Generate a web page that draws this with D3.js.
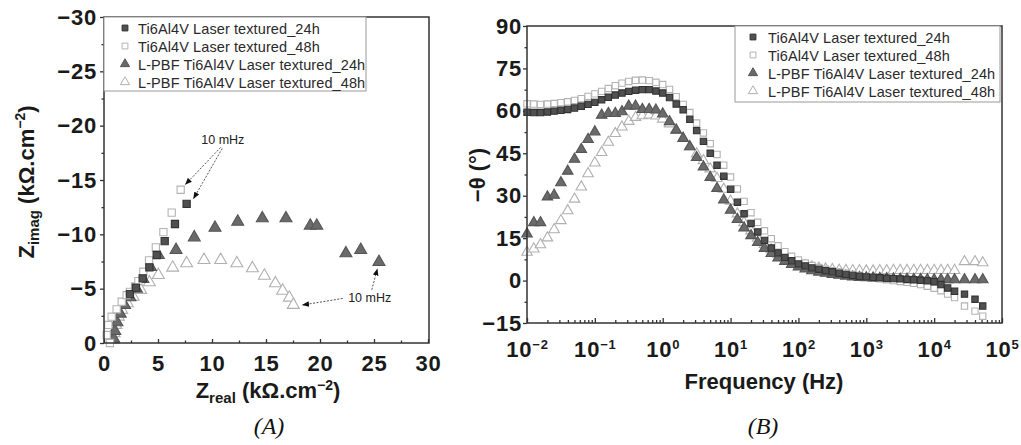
<!DOCTYPE html>
<html><head><meta charset="utf-8">
<script src="https://cdn.jsdelivr.net/npm/d3@7"></script>
<style>
body{margin:0;background:#fff;}
svg{display:block;font-family:"Liberation Sans",Arial,sans-serif;}
</style></head><body>
<svg id="c" width="1021" height="445"></svg>
<script>
// ---------- DATA ----------
const seriesNames = ["Ti6Al4V Laser textured_24h","Ti6Al4V Laser textured_48h","L-PBF Ti6Al4V Laser textured_24h","L-PBF Ti6Al4V Laser textured_48h"];

// (A) Nyquist: Zreal (kOhm.cm-2), Zimag (kOhm.cm-2)
const nyqSq24Dense_re = [0.52,0.6,0.72,0.85,1.0,1.2,1.4,1.6,1.8,2.0,2.2,2.4];
const nyqSq24Dense_im = [0,-0.3,-0.7,-1.2,-1.7,-2.2,-2.7,-3.1,-3.5,-3.9,-4.2,-4.5];
const nyqSq24_re = [2.4,2.96,3.58,4.2,4.88,5.62,6.57,7.65];
const nyqSq24_im = [-4.5,-5.1,-5.95,-6.96,-8.1,-9.38,-10.95,-12.8];
const nyqSq48_re = [0.55,0.25,0.4,0.71,1.17,1.64,2.1,2.4,2.87,3.18,3.64,4.17,4.8,5.5,6.27,7.1];
const nyqSq48_im = [0,-0.74,-1.66,-2.42,-3.1,-3.8,-4.4,-4.7,-5.2,-5.7,-6.56,-7.6,-8.8,-10.2,-12.0,-14.1];
const nyqTri24_re = [0.9,1.0,1.2,1.5,1.9,2.4,3.0,3.6,4.3,5.03,6.67,8.36,10.28,12.38,14.66,16.85,19.1,19.7,22.4,23.77,25.46];
const nyqTri24_im = [-0.4,-1.1,-1.9,-2.7,-3.5,-4.2,-5.0,-5.9,-7.0,-8.1,-8.56,-9.72,-10.6,-11.16,-11.47,-11.47,-10.8,-10.8,-8.25,-8.56,-7.45];
const nyqTri48_re = [0.86,0.93,1.1,1.33,1.64,2.16,2.7,3.4,4.2,5.03,6.36,7.65,9.26,10.8,12.3,13.74,14.85,15.87,16.54,17.16,17.53];
const nyqTri48_im = [-0.28,-0.9,-1.66,-2.42,-3.04,-3.65,-4.26,-4.88,-5.58,-6.26,-6.93,-7.33,-7.64,-7.64,-7.33,-6.87,-6.19,-5.49,-4.81,-4.17,-3.5];
const nyqXTicks = [0,5,10,15,20,25,30];
const nyqYTicks = [0,-5,-10,-15,-20,-25,-30];

// (B) Bode phase: frequency (Hz), -theta (deg)
const freq = [0.01,0.0126,0.0158,0.02,0.0251,0.0316,0.0398,0.0501,0.0631,0.0794,
  0.1,0.126,0.158,0.2,0.251,0.316,0.398,0.501,0.631,0.794,
  1,1.26,1.58,2,2.51,3.16,3.98,5.01,6.31,7.94,
  10,12.6,15.8,20,25.1,31.6,39.8,50.1,63.1,79.4,
  100,126,158,200,251,316,398,501,631,794,
  1000,1260,1580,2000,2510,3160,3980,5010,6310,7940,
  10000,12600,15800,20000,28000,40000,52000];
const phSq24 = [59.5,59.4,59.4,59.6,59.9,60.2,60.5,61.0,61.6,62.3,
  63.0,63.9,64.8,65.6,66.3,66.9,67.3,67.5,67.5,67.0,
  66.3,64.7,62.4,60.4,57.0,53.0,49.2,45.0,40.8,36.9,
  32.3,27.7,23.6,20.2,17.2,14.2,11.5,9.8,8.2,7.0,
  5.9,5.2,4.5,4.0,3.5,3.1,2.6,2.2,1.8,1.5,
  1.3,1.1,1.0,0.8,0.7,0.6,0.4,0.3,0.1,-0.1,
  -0.4,-1.4,-2.6,-3.8,-4.8,-6.6,-9.0];
const phSq48 = [62.5,62.4,62.3,62.4,62.6,62.9,63.2,63.7,64.3,65.1,
  66.0,66.9,67.9,68.9,69.8,70.4,70.8,70.9,70.7,70.1,
  69.3,67.6,65.0,62.3,59.4,55.7,52.2,48.4,44.6,40.8,
  36.6,32.4,28.0,24.0,20.6,17.6,14.8,12.3,10.2,8.6,
  7.3,6.2,5.3,4.6,4.0,3.5,3.0,2.6,2.2,1.8,
  1.4,1.0,0.6,0.3,0.0,-0.3,-0.6,-1.0,-1.4,-2.0,
  -2.7,-3.6,-4.8,-6.0,-9.0,-10.8,-12.6];
const phTri24 = [16.5,20.5,20.5,29.6,30.2,34.6,38.7,42.9,46.4,49.9,
  52.6,58.5,59.1,59.1,59.7,61.7,61.7,60.5,60.5,60.3,
  58.9,56.2,53.2,50.3,47.3,43.5,40.2,36.5,32.6,28.5,
  24.9,21.6,18.6,15.9,13.5,11.4,9.6,8.0,6.8,5.7,
  4.8,4.1,3.5,3.0,2.6,2.2,1.9,1.6,1.3,1.1,
  1.0,0.9,0.8,0.7,0.6,0.5,0.5,0.4,0.4,0.3,
  0.3,0.3,0.3,0.3,0.3,0.3,0.3];
const phTri48 = [10.0,11.2,12.7,15.1,18.0,21.2,24.7,28.8,33.1,37.8,
  41.6,45.3,48.9,52.0,54.3,56.3,57.7,58.3,58.5,58.2,
  57.1,55.4,53.3,50.3,47.3,44.8,42.4,39.5,36.1,32.3,
  28.1,23.6,20.5,17.6,15.0,12.8,10.9,9.3,8.0,6.9,
  6.0,5.3,4.8,4.4,4.1,3.9,3.7,3.6,3.5,3.5,
  3.4,3.4,3.5,3.5,3.6,3.6,3.6,3.6,3.6,3.6,
  3.6,3.6,3.6,3.6,6.7,6.7,6.3];
const bodeYTicks = [-15,0,15,30,45,60,75,90];
const bodeXTicks = [1e-2,1e-1,1e0,1e1,1e2,1e3,1e4,1e5];

// ---------- STYLE ----------
const styles = [
  {type:d3.symbolSquare, fill:"#505050", stroke:"#333"},
  {type:d3.symbolSquare, fill:"#fff", stroke:"#b3b3b3"},
  {type:d3.symbolTriangle, fill:"#6a6a6a", stroke:"#555"},
  {type:d3.symbolTriangle, fill:"#fff", stroke:"#b0b0b0"}
];
const fmtMinus = d => d < 0 ? "\u2212" + Math.abs(d) : String(d);
const TICKFS = 22;

const svg = d3.select("#c");
svg.append("rect").attr("width",1021).attr("height",445).attr("fill","#fff");

function styleAxis(g){
  g.select(".domain").remove();
  g.selectAll("line").attr("stroke","#333").attr("stroke-width",1.3);
  g.selectAll("text").attr("font-size",TICKFS).attr("font-weight","bold").attr("fill","#1a1a1a")
    .attr("letter-spacing","0.8px")
    .attr("font-family",'"Liberation Sans",Arial,sans-serif');
}
function drawMarkers(g, pts, si, xs, ys, size){
  const st = styles[si];
  g.append("g").selectAll("path").data(pts).join("path")
    .attr("d", d3.symbol().type(st.type).size(size))
    .attr("transform", d => `translate(${xs(d[0])},${ys(d[1])})`)
    .attr("fill", st.fill).attr("stroke", st.stroke).attr("stroke-width",1.1);
}
const zip = (a,b) => a.map((v,i)=>[v,b[i]]);

// defs: arrowhead
svg.append("defs").append("marker").attr("id","ah").attr("viewBox","0 0 10 10")
  .attr("refX",9).attr("refY",5).attr("markerWidth",7).attr("markerHeight",7).attr("orient","auto-start-reverse")
  .append("path").attr("d","M0,1 L10,5 L0,9 Z").attr("fill","#111");

// ================= (A) =================
const L = {x0:104, x1:429, y0:17, y1:343};
const xL = d3.scaleLinear([0,30],[L.x0, 428]);
const yL = d3.scaleLinear([0,-30],[L.y1, L.y0]);
const gA = svg.append("g");

gA.append("g").attr("transform",`translate(${L.x0},0)`)
  .call(d3.axisLeft(yL).tickValues(nyqYTicks).tickSize(4).tickPadding(3).tickFormat(fmtMinus))
  .call(styleAxis);
gA.append("g").attr("transform",`translate(${L.x0},0)`)
  .call(d3.axisLeft(yL).tickValues(d3.range(-2.5,-30,-5)).tickSize(2.5).tickFormat(""))
  .call(styleAxis);
gA.append("g").attr("transform",`translate(0,${L.y1})`)
  .call(d3.axisBottom(xL).tickValues(nyqXTicks).tickSize(-4).tickPadding(12).tickFormat(d=>d))
  .call(styleAxis);
gA.append("g").attr("transform",`translate(0,${L.y1})`)
  .call(d3.axisBottom(xL).tickValues(d3.range(2.5,30,5)).tickSize(-2.5).tickFormat(""))
  .call(styleAxis);

// data
gA.append("path").datum(zip(nyqSq24Dense_re, nyqSq24Dense_im))
  .attr("d", d3.line().x(d=>xL(d[0])).y(d=>yL(d[1])).curve(d3.curveMonotoneY))
  .attr("fill","none").attr("stroke","#3a3a3a").attr("stroke-width",2);
drawMarkers(gA, zip(nyqTri48_re,nyqTri48_im), 3, xL, yL, 62);
drawMarkers(gA, zip(nyqTri24_re,nyqTri24_im), 2, xL, yL, 62);
drawMarkers(gA, zip(nyqSq48_re,nyqSq48_im), 1, xL, yL, 52);
drawMarkers(gA, zip(nyqSq24_re,nyqSq24_im), 0, xL, yL, 52);

// annotations (10 mHz)
const ann = gA.append("g").attr("fill","none").attr("stroke","#555").attr("stroke-width",1).attr("stroke-dasharray","2,1.5");
[[[10.8,-18.0],[7.55,-14.6]],[[10.95,-17.9],[8.3,-13.3]],[[22.1,-4.1],[18.4,-3.5]],[[24.8,-4.9],[25.3,-6.8]]]
  .forEach(([a,b]) => ann.append("line").attr("x1",xL(a[0])).attr("y1",yL(a[1])).attr("x2",xL(b[0])).attr("y2",yL(b[1])).attr("marker-end","url(#ah)"));
gA.append("text").attr("x",xL(11.0)).attr("y",yL(-18.3)).attr("text-anchor","middle").attr("font-size",12.5).attr("fill","#222").text("10 mHz");
gA.append("text").attr("x",xL(24.6)).attr("y",yL(-3.8)).attr("text-anchor","middle").attr("font-size",12.5).attr("fill","#222").text("10 mHz");

// frame
gA.append("rect").attr("x",L.x0).attr("y",L.y0).attr("width",L.x1-L.x0).attr("height",L.y1-L.y0)
  .attr("fill","none").attr("stroke","#333").attr("stroke-width",1.5);

// legend
function legend(g, x0, y0, x1, y1, symX, txtX, rowY){
  g.append("rect").attr("x",x0).attr("y",y0).attr("width",x1-x0).attr("height",y1-y0)
    .attr("fill","#fff").attr("stroke","#999").attr("stroke-width",1);
  seriesNames.forEach((n,i)=>{
    const st = styles[i];
    g.append("path").attr("d", d3.symbol().type(st.type).size(i<2?34:36)())
      .attr("transform",`translate(${symX},${rowY[i]})`).attr("fill",st.fill).attr("stroke",st.stroke).attr("stroke-width",1);
    g.append("text").attr("x",txtX).attr("y",rowY[i]+5.5).attr("font-size",14.5).attr("letter-spacing","0.1px").attr("fill","#2a2a2a").text(n);
  });
}
legend(gA, L.x0, L.y0, 366, 91, 125, 138, [28,46,64,82]);

// titles
const tA = gA.append("text").attr("text-anchor","middle").attr("font-weight","bold").attr("font-size",22).attr("fill","#1a1a1a")
  .attr("transform","translate(34,182) rotate(-90)");
tA.append("tspan").text("Z");
tA.append("tspan").attr("font-size",15).attr("dy",5).text("imag");
tA.append("tspan").attr("dy",-5).text(" (k\u03A9.cm");
tA.append("tspan").attr("font-size",14).attr("dy",-9).text("\u22122");
tA.append("tspan").attr("dy",9).text(")");

const tAx = gA.append("text").attr("x",268).attr("y",398).attr("text-anchor","middle").attr("font-weight","bold").attr("font-size",22).attr("fill","#1a1a1a");
tAx.append("tspan").text("Z");
tAx.append("tspan").attr("font-size",15).attr("dy",5).text("real");
tAx.append("tspan").attr("dy",-5).text(" (k\u03A9.cm");
tAx.append("tspan").attr("font-size",14).attr("dy",-8).text("\u22122");
tAx.append("tspan").attr("dy",8).text(")");

svg.append("text").attr("x",269).attr("y",434).attr("text-anchor","middle").attr("font-family",'"Liberation Serif","Times New Roman",serif')
  .attr("font-style","italic").attr("font-size",24).attr("fill","#111").text("(A)");

// ================= (B) =================
const R = {x0:527, x1:1002, y0:26, y1:323};
const xR = d3.scaleLog([1e-2,1e5],[R.x0,R.x1]);
const yR = d3.scaleLinear([-15,90],[R.y1,R.y0]);
const gB = svg.append("g");

gB.append("g").attr("transform",`translate(${R.x0},0)`)
  .call(d3.axisLeft(yR).tickValues(bodeYTicks).tickSize(4).tickPadding(1).tickFormat(fmtMinus))
  .call(styleAxis);
gB.append("g").attr("transform",`translate(${R.x0},0)`)
  .call(d3.axisLeft(yR).tickValues(d3.range(-7.5,90,15)).tickSize(2.5).tickFormat(""))
  .call(styleAxis);
const minorsR = [];
for (let e=-2;e<5;e++) for (let m=2;m<10;m++) minorsR.push(m*Math.pow(10,e));
gB.append("g").attr("transform",`translate(0,${R.y1})`)
  .call(d3.axisBottom(xR).tickValues(minorsR).tickSize(-3).tickFormat(""))
  .call(styleAxis);
const xAxB = gB.append("g").attr("transform",`translate(0,${R.y1})`)
  .call(d3.axisBottom(xR).tickValues(bodeXTicks).tickSize(-5).tickPadding(18).tickFormat(d=>d))
  .call(styleAxis);
xAxB.selectAll(".tick text").each(function(d){
  const e = Math.round(Math.log10(d));
  const t = d3.select(this).text(null);
  t.append("tspan").text("10");
  t.append("tspan").attr("font-size",13).attr("dy","-0.6em").text(e<0 ? "\u2212"+(-e) : String(e));
});

const ptsB = arr => freq.map((f,i)=>[f,arr[i]]);
drawMarkers(gB, ptsB(phTri48), 3, xR, yR, 48);
drawMarkers(gB, ptsB(phTri24), 2, xR, yR, 48);
drawMarkers(gB, ptsB(phSq48), 1, xR, yR, 40);
drawMarkers(gB, ptsB(phSq24), 0, xR, yR, 40);

gB.append("rect").attr("x",R.x0).attr("y",R.y0).attr("width",R.x1-R.x0).attr("height",R.y1-R.y0)
  .attr("fill","none").attr("stroke","#333").attr("stroke-width",1.5);
legend(gB, 735, R.y0, 1000, 102, 753, 768, [37,55,73,91]);

gB.append("text").attr("text-anchor","middle").attr("font-weight","bold").attr("font-size",22).attr("fill","#1a1a1a")
  .attr("transform","translate(485,175) rotate(-90)").text("\u2212\u03B8 (\u00B0)");
gB.append("text").attr("x",764).attr("y",389).attr("text-anchor","middle").attr("font-weight","bold").attr("font-size",22).attr("fill","#1a1a1a").text("Frequency (Hz)");
svg.append("text").attr("x",763).attr("y",434).attr("text-anchor","middle").attr("font-family",'"Liberation Serif","Times New Roman",serif')
  .attr("font-style","italic").attr("font-size",24).attr("fill","#111").text("(B)");
</script>
</body></html>
